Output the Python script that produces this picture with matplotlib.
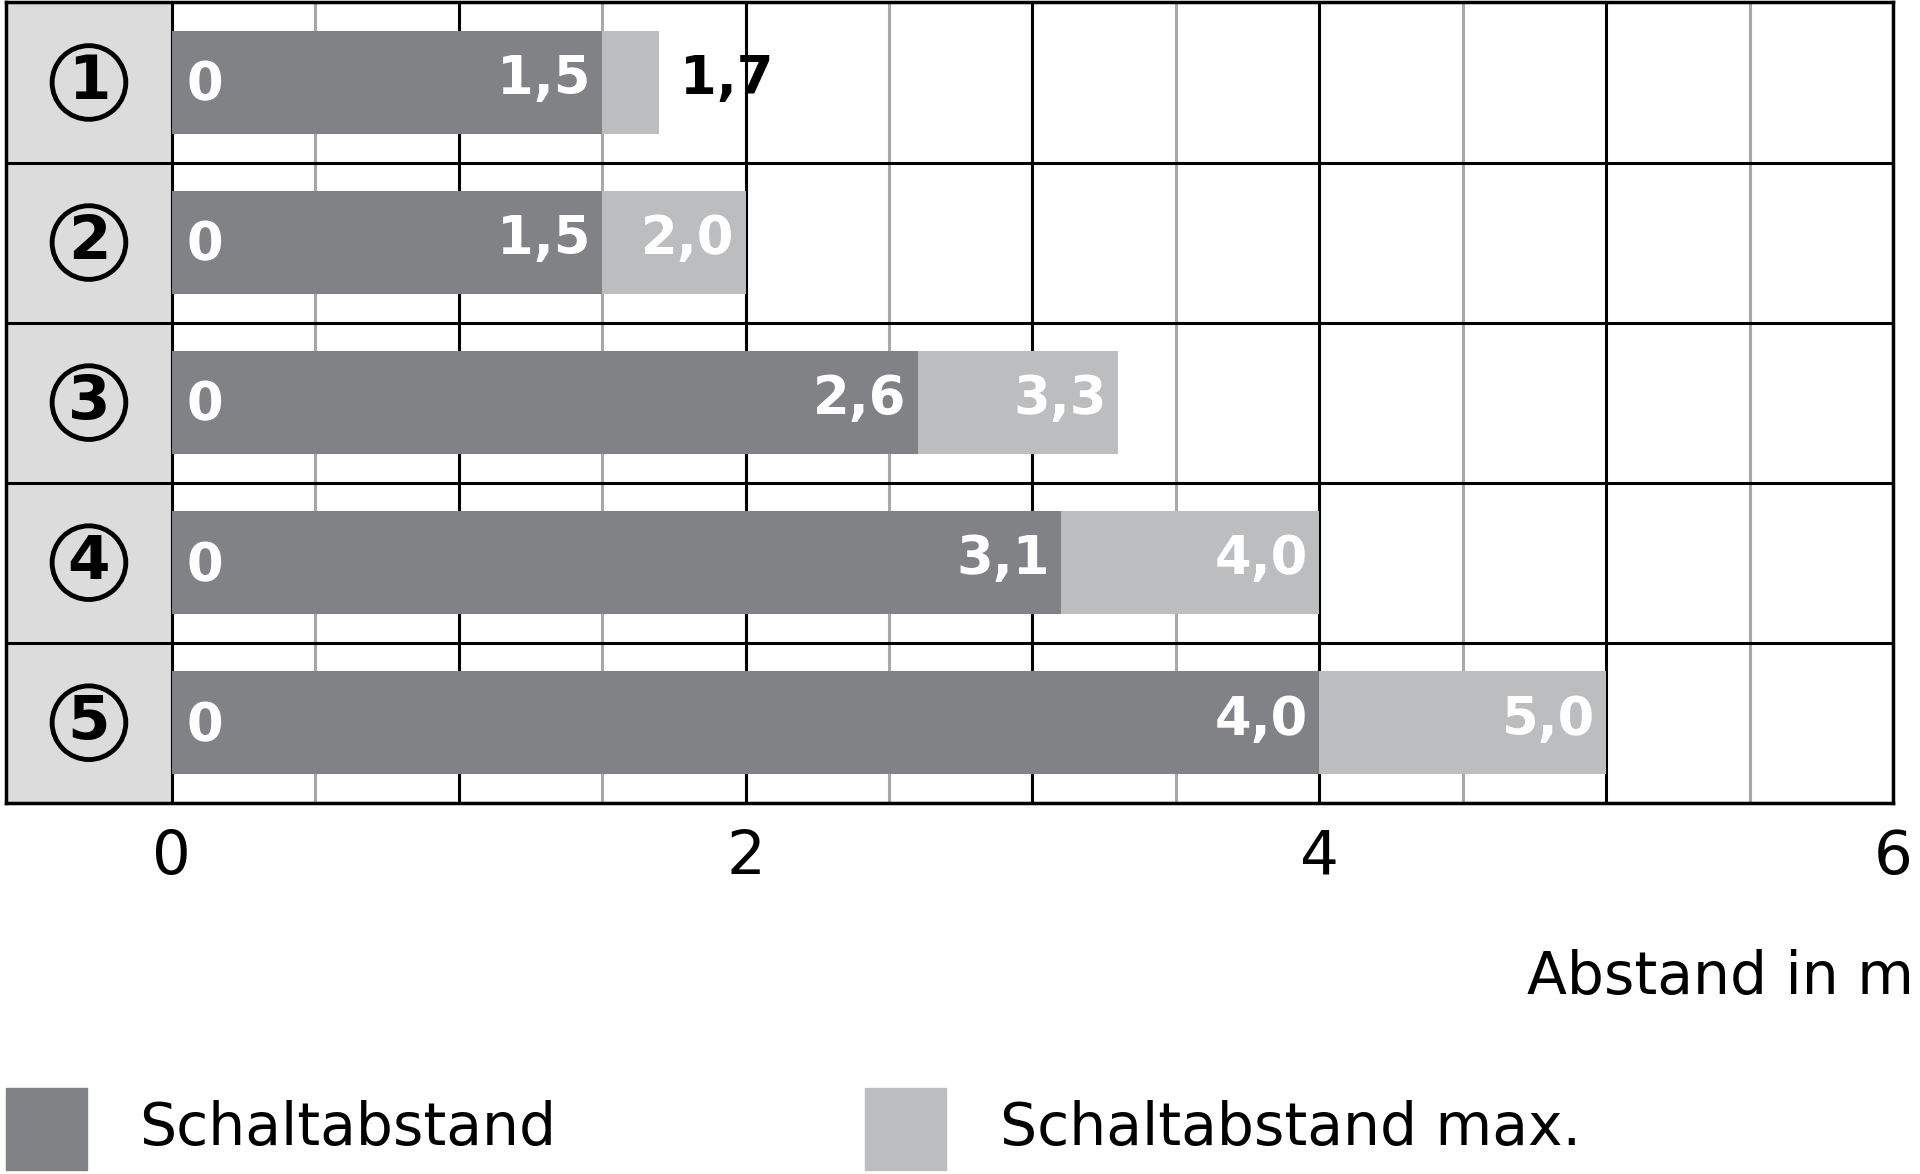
import matplotlib
matplotlib.use("Agg")
import matplotlib.pyplot as plt
from matplotlib.patches import Rectangle

rows = ["1", "2", "3", "4", "5"]
schalt = [1.5, 1.5, 2.6, 3.1, 4.0]
schalt_max = [1.7, 2.0, 3.3, 4.0, 5.0]
ticks = [0, 2, 4, 6]
labels_dark = ["1,5", "1,5", "2,6", "3,1", "4,0"]
labels_light = ["1,7", "2,0", "3,3", "4,0", "5,0"]
legend_labels = ["Schaltabstand", "Schaltabstand max."]

DARK = "#808285"
LIGHT = "#bcbdbf"
W, H = 1565, 955

fig = plt.figure(figsize=(19.2, 11.74), dpi=100)
ax = fig.add_axes([5 / W, 1 - 653 / H, (1543 - 5) / W, (653 - 2) / H])
xmin = -135 / 233.8
ax.set_xlim(xmin, 6)
ax.set_ylim(5, 0)
ax.axvspan(xmin, 0, color="#dcdcdd", zorder=0)

for x in [0.5 + i for i in range(6)]:
    ax.axvline(x, color="#a8a8a8", lw=2.2, zorder=1)
for x in range(0, 7):
    ax.axvline(x, color="black", lw=2.2, zorder=1)
for y in range(0, 6):
    ax.axhline(y, color="black", lw=2.2, zorder=1)

fs = 38
for i in range(len(rows)):
    yc = i + 0.5
    ax.barh(yc, schalt_max[i] - schalt[i], left=schalt[i], height=0.64, color=LIGHT, zorder=2)
    ax.barh(yc, schalt[i], left=0, height=0.64, color=DARK, zorder=2)
    ax.text(0.05, yc + 0.02, "0", color="white", fontsize=fs, fontweight="bold", va="center", ha="left", zorder=3)
    ax.text(schalt[i] - 0.04, yc - 0.02, labels_dark[i], color="white", fontsize=fs, fontweight="bold", va="center", ha="right", zorder=3)
    if schalt_max[i] - schalt[i] < 0.4:
        ax.text(schalt_max[i] + 0.07, yc - 0.02, labels_light[i], color="black", fontsize=fs, fontweight="bold", va="center", ha="left", zorder=3)
    else:
        ax.text(schalt_max[i] - 0.04, yc - 0.02, labels_light[i], color="white", fontsize=fs, fontweight="bold", va="center", ha="right", zorder=3)
    ax.text(xmin / 2, yc, rows[i], fontsize=44, fontweight="bold", ha="center", va="center", zorder=3,
            bbox=dict(boxstyle="circle,pad=0.12", fc="none", ec="black", lw=3.5))

ax.set_xticks(ticks)
ax.set_xticklabels([str(t) for t in ticks], fontsize=44)
ax.tick_params(axis="x", length=0, pad=18)
ax.set_yticks([])
for s in ax.spines.values():
    s.set_linewidth(2.5)

fig.text(1560 / W, 1 - 795 / H, "Abstand in m", fontsize=42, ha="right", va="center")

for (x0, xt), lab, c in zip([(5, 113), (705, 815)], legend_labels, [DARK, LIGHT]):
    fig.patches.append(Rectangle((x0 / W, 1 - 952 / H), 66 / W, 67 / H, transform=fig.transFigure, color=c))
    fig.text(xt / W, 1 - 918 / H, lab, fontsize=42, ha="left", va="center")

fig.savefig("out.png", dpi=100)
